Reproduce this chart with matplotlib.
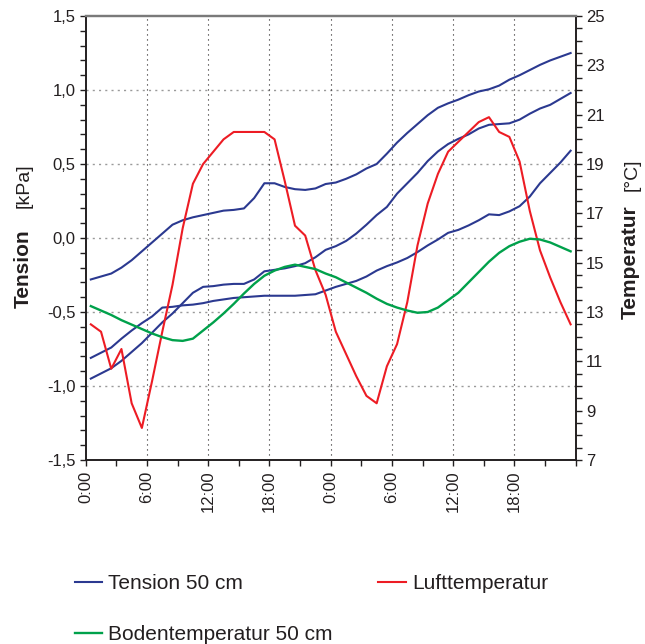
import numpy as np
import matplotlib
matplotlib.use("Agg")
import matplotlib.pyplot as plt
from matplotlib.ticker import MultipleLocator, FuncFormatter

plt.rcParams['font.family'] = ['Liberation Sans', 'DejaVu Sans']
plt.rcParams['text.color'] = '#231f20'

# Stunden seit Beginn (Stundenmittel)
stunden = np.arange(0.5, 48, 1.0)

# drei Tensiometer in 50 cm Tiefe [kPa]
tension_a = [-0.28, -0.26, -0.24, -0.20, -0.15, -0.09, -0.03, 0.03, 0.09, 0.12,
             0.14, 0.155, 0.17, 0.185, 0.19, 0.20, 0.27, 0.37, 0.37, 0.345,
             0.33, 0.325, 0.335, 0.365, 0.375, 0.40, 0.43, 0.47, 0.50, 0.57,
             0.645, 0.71, 0.77, 0.83, 0.88, 0.91, 0.935, 0.965, 0.99, 1.005,
             1.03, 1.07, 1.10, 1.135, 1.17, 1.20, 1.225, 1.25]
tension_b = [-0.81, -0.775, -0.74, -0.68, -0.625, -0.575, -0.53, -0.47, -0.465, -0.455,
             -0.45, -0.44, -0.425, -0.415, -0.405, -0.40, -0.395, -0.39, -0.39, -0.39,
             -0.39, -0.385, -0.38, -0.355, -0.33, -0.31, -0.29, -0.26, -0.22, -0.19,
             -0.165, -0.135, -0.095, -0.05, -0.01, 0.035, 0.055, 0.085, 0.12, 0.16,
             0.155, 0.18, 0.215, 0.28, 0.37, 0.44, 0.51, 0.59]
tension_c = [-0.95, -0.915, -0.88, -0.83, -0.77, -0.71, -0.64, -0.57, -0.51, -0.44,
             -0.37, -0.33, -0.325, -0.315, -0.31, -0.31, -0.28, -0.225, -0.215, -0.205,
             -0.19, -0.17, -0.13, -0.08, -0.055, -0.02, 0.03, 0.09, 0.155, 0.21,
             0.30, 0.37, 0.44, 0.52, 0.585, 0.635, 0.67, 0.70, 0.74, 0.765,
             0.77, 0.775, 0.80, 0.84, 0.875, 0.90, 0.94, 0.98]

# Lufttemperatur [°C]
luft = [12.5, 12.2, 10.7, 11.5, 9.3, 8.3, 10.2, 12.2, 14.1, 16.4,
        18.2, 19.0, 19.5, 20.0, 20.3, 20.3, 20.3, 20.3, 20.0, 18.3,
        16.5, 16.1, 14.7, 13.7, 12.2, 11.3, 10.4, 9.6, 9.3, 10.8,
        11.7, 13.4, 15.7, 17.4, 18.6, 19.5, 19.9, 20.3, 20.7, 20.9,
        20.3, 20.1, 19.1, 17.1, 15.5, 14.4, 13.4, 12.5]

# Bodentemperatur 50 cm [°C]
boden = [13.24, 13.06, 12.88, 12.67, 12.49, 12.31, 12.13, 11.98, 11.86, 11.83,
         11.92, 12.25, 12.58, 12.94, 13.33, 13.75, 14.14, 14.47, 14.68, 14.83,
         14.92, 14.83, 14.74, 14.56, 14.41, 14.20, 13.99, 13.78, 13.54, 13.33,
         13.18, 13.06, 12.97, 13.00, 13.18, 13.48, 13.78, 14.20, 14.62, 15.04,
         15.40, 15.67, 15.85, 15.97, 15.94, 15.82, 15.64, 15.46]

x_ticks = [0, 6, 12, 18, 24, 30, 36, 42, 48]
x_labels = ["0:00", "6:00", "12:00", "18:00", "0:00", "6:00", "12:00", "18:00", ""]
temp_ticks = [7, 9, 11, 13, 15, 17, 19, 21, 23, 25]

blau = '#2b3990'
rot = '#ed1c24'
gruen = '#00a14b'
textfarbe = '#231f20'

fig = plt.figure(figsize=(6.45, 6.44), dpi=100)
ax = fig.add_axes([0.1329, 0.2857, 0.7597, 0.6894])
ax2 = ax.twinx()

l1, = ax.plot(stunden, tension_a, color=blau, lw=1.5)
ax.plot(stunden, tension_b, color=blau, lw=1.5)
ax.plot(stunden, tension_c, color=blau, lw=1.5)
l3, = ax2.plot(stunden, luft, color=rot, lw=1.5)
l2, = ax2.plot(stunden, boden, color=gruen, lw=1.7)

ax.set_xlim(0, 48)
ax.set_ylim(-1.5, 1.5)
ax2.set_ylim(7, 25)

ax.set_xticks(x_ticks)
ax.set_xticklabels(x_labels, rotation=90)
ax.xaxis.set_minor_locator(MultipleLocator(3))
ax.yaxis.set_major_locator(MultipleLocator(0.5))
ax.yaxis.set_minor_locator(MultipleLocator(0.1))
ax.yaxis.set_major_formatter(FuncFormatter(lambda v, p: f"{v:.1f}".replace('.', ',').replace('-0,0', '0,0')))
ax2.set_yticks(temp_ticks)
ax2.yaxis.set_minor_locator(MultipleLocator(0.5))

for a in (ax, ax2):
    a.tick_params(which='both', direction='out', length=4.5, width=1, color='#231f20',
                  labelsize=12, labelcolor=textfarbe, pad=3)

# Gitter
for v in [-1.0, -0.5, 0.0, 0.5, 1.0]:
    ax.axhline(v, color='#9a9a9a', lw=1.0, ls=(0, (1.5, 3)), zorder=0.5)
for v in [6, 12, 18, 24, 30, 36, 42]:
    ax.axvline(v, color='#231f20', lw=0.8, ls=(0, (1, 3.5)), zorder=0.5)

for a in (ax, ax2):
    a.spines['top'].set_color('#7a7a7a')
    a.spines['top'].set_linewidth(1.6)
    for s in ['left', 'right', 'bottom']:
        a.spines[s].set_color('#231f20')
        a.spines[s].set_linewidth(1.2)

# Achsentitel
fig.text(0.036, 1 - 269 / 644, "Tension", rotation=90, fontsize=15, fontweight='bold',
         ha='center', va='center')
fig.text(0.037, 1 - 186 / 644, "[kPa]", rotation=90, fontsize=14,
         ha='center', va='center')
fig.text(0.977, 1 - 262 / 644, "Temperatur", rotation=90, fontsize=15, fontweight='bold',
         ha='center', va='center')
fig.text(0.980, 1 - 175 / 644, "[°C]", rotation=90, fontsize=14,
         ha='center', va='center')

fig.legend([l1, l2, l3], ["Tension 50 cm", "Bodentemperatur 50 cm", "Lufttemperatur"],
           ncol=2, loc='upper left', bbox_to_anchor=(0.116, 1 - 574 / 644),
           frameon=False, fontsize=15, borderpad=0, borderaxespad=0,
           handlelength=1.3, handletextpad=0.3, columnspacing=2.2, labelspacing=1.55)

fig.savefig("out.png", dpi=100)
